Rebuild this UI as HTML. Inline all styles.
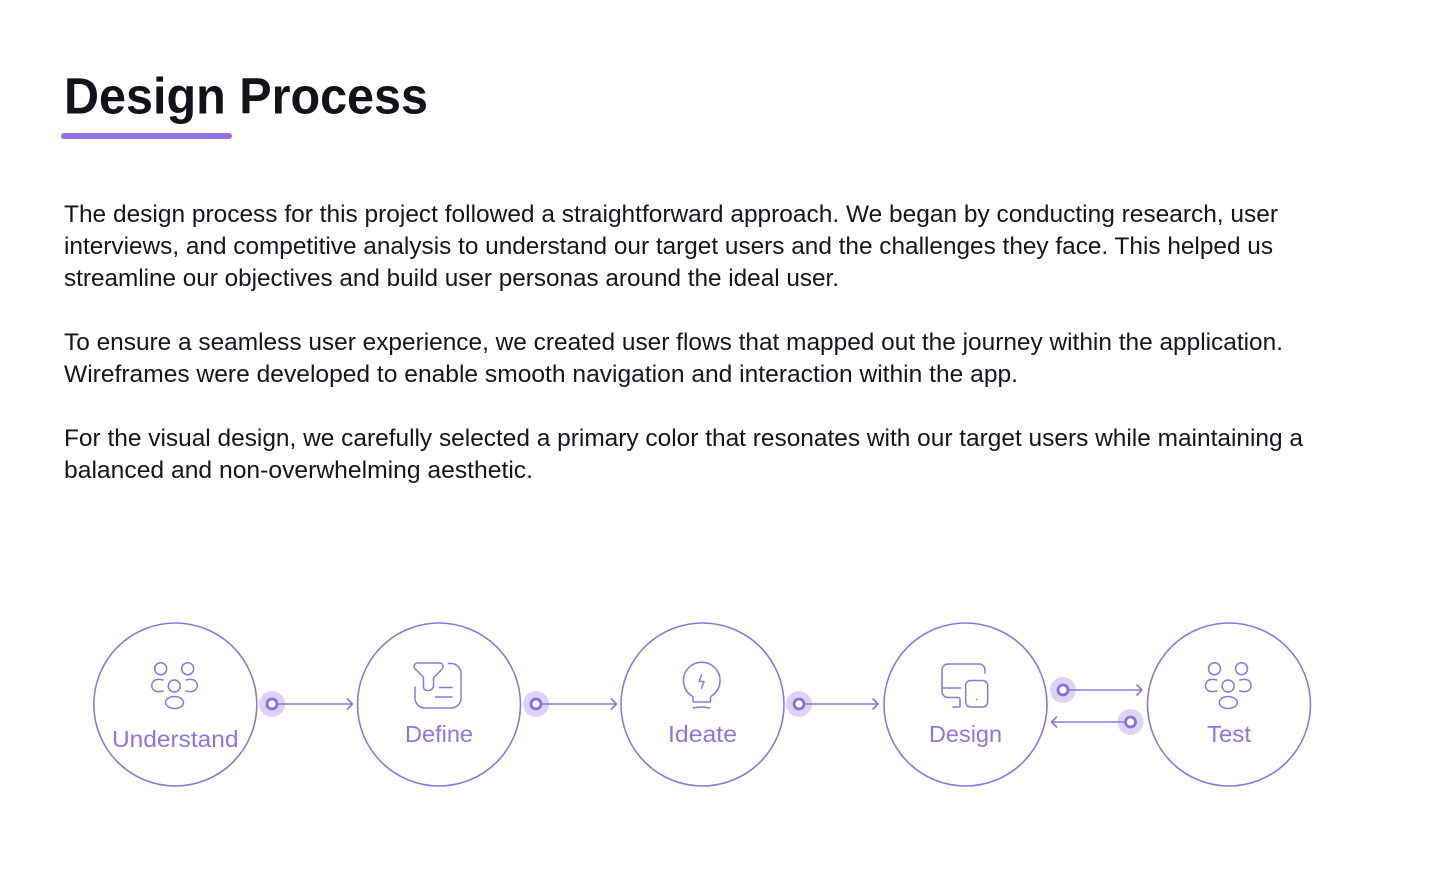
<!DOCTYPE html>
<html><head><meta charset="utf-8"><style>
html,body{margin:0;padding:0;background:#fff;width:1440px;height:889px;overflow:hidden}
svg{display:block}
text{font-family:"Liberation Sans",sans-serif}
.b{font-size:24px;fill:#15151d}
.l{font-size:23px;fill:#8f76dd}
.s{fill:none;stroke:#8f76dd;stroke-width:1.6;stroke-linecap:round;stroke-linejoin:round}
.i{fill:none;stroke:#8f76dd;stroke-width:1.5;stroke-linecap:round;stroke-linejoin:round}
</style></head><body>
<svg width="1440" height="889" viewBox="0 0 1440 889" xmlns="http://www.w3.org/2000/svg">
<defs>
<g id="people" class="i">
<circle cx="160.7" cy="668.7" r="6"/><circle cx="187.7" cy="668.7" r="6"/><circle cx="174.3" cy="686" r="6"/>
<ellipse cx="174.5" cy="702.5" rx="9" ry="6"/>
<path d="M163 680q-4-1-6-.500c-7 1-7 11 0 12q2 .500 6-.500"/>
<path d="M186 680q4-1 6-.500c7 1 7 11 0 12q-2 .500-6-.500"/>
</g>
<g id="dot"><circle r="13" fill="#dcd3f8" stroke="none"/><circle r="5" fill="#fff" stroke="#8a6fe0" stroke-width="2.800"/></g>
</defs>
<text x="64" y="113.500" font-size="51" font-weight="700" fill="#12121a" textLength="364" lengthAdjust="spacingAndGlyphs">Design Process</text>
<rect x="61" y="133" width="171" height="6" rx="3" fill="#9370e8"/>

<text class="b" x="64" y="222" textLength="1214" lengthAdjust="spacingAndGlyphs">The design process for this project followed a straightforward approach. We began by conducting research, user</text>
<text class="b" x="64" y="254" textLength="1209" lengthAdjust="spacingAndGlyphs">interviews, and competitive analysis to understand our target users and the challenges they face. This helped us</text>
<text class="b" x="64" y="286" textLength="775" lengthAdjust="spacingAndGlyphs">streamline our objectives and build user personas around the ideal user.</text>
<text class="b" x="64" y="350" textLength="1219" lengthAdjust="spacingAndGlyphs">To ensure a seamless user experience, we created user flows that mapped out the journey within the application.</text>
<text class="b" x="64" y="382" textLength="954" lengthAdjust="spacingAndGlyphs">Wireframes were developed to enable smooth navigation and interaction within the app.</text>
<text class="b" x="64" y="446" textLength="1239" lengthAdjust="spacingAndGlyphs">For the visual design, we carefully selected a primary color that resonates with our target users while maintaining a</text>
<text class="b" x="64" y="478" textLength="469" lengthAdjust="spacingAndGlyphs">balanced and non-overwhelming aesthetic.</text>

<g class="s">
<circle cx="175.300" cy="704.500" r="81.500"/>
<circle cx="439" cy="704.500" r="81.500"/>
<circle cx="702.500" cy="704.500" r="81.500"/>
<circle cx="965.500" cy="704.500" r="81.500"/>
<circle cx="1229" cy="704.500" r="81.500"/>
</g>

<use href="#people"/>
<use href="#people" x="1053.800"/>

<g class="i">
<path d="M418.500 663h21a3.500 3.500 0 0 1 2.500 6l-8 8.500a2 2 0 0 0-.5 1.500v7q-.5 4-5 4.500q-5 .5-5-4.500v-8a2 2 0 0 0-.8-1.500l-7.500-7.500a3.500 3.500 0 0 1 2.800-6z"/>
<path d="M448.500 663.500h2.500a10 10 0 0 1 10 10v24.500a10 10 0 0 1-10 10h-26a10 10 0 0 1-10-10v-11"/>
<path d="M439.500 687.500h12.500M435.500 697h16.500"/>

<path d="M693 701v-3.500a2 2 0 0 0-1-1.500a18.300 18.300 0 1 1 19.500 0a2 2 0 0 0-1 1.500v3.500a1 1 0 0 1-1 1h-15.500a1 1 0 0 1-1-1z"/>
<path d="M693.500 708q8-2 16 0"/>
<path d="M701.500 675l-2.300 6.500h4.800l-2.500 6.800"/>

<path d="M985 673v-3a6 6 0 0 0-6-6h-31a6 6 0 0 0-6 6v21.500a6 6 0 0 0 6 6h10a2 2 0 0 1 2 2v7.500h-7"/>
<path d="M942 688h18.500"/>
<rect x="965.700" y="680.500" width="22" height="26.500" rx="5"/>
</g>
<circle cx="976.500" cy="699.500" r=".8" fill="#8f76dd"/>

<text class="l" x="112" y="747" textLength="126.500" lengthAdjust="spacingAndGlyphs">Understand</text>
<text class="l" x="405" y="742" textLength="68" lengthAdjust="spacingAndGlyphs">Define</text>
<text class="l" x="668" y="742" textLength="69" lengthAdjust="spacingAndGlyphs">Ideate</text>
<text class="l" x="929" y="742" textLength="73" lengthAdjust="spacingAndGlyphs">Design</text>
<text class="l" x="1207" y="742" textLength="44" lengthAdjust="spacingAndGlyphs">Test</text>

<use href="#dot" x="272" y="704"/>
<use href="#dot" x="536" y="704"/>
<use href="#dot" x="799" y="704"/>
<use href="#dot" x="1063" y="690"/>
<use href="#dot" x="1130.500" y="722"/>
<g class="s">
<path d="M278 704H352.500M347.500 699l5 5-5 5"/>
<path d="M542 704H616.500M611.500 699l5 5-5 5"/>
<path d="M805 704H878M873 699l5 5-5 5"/>
<path d="M1069 690H1142M1137 685l5 5-5 5"/>
<path d="M1124.500 722H1051.500M1056.500 717l-5 5 5 5"/>
</g>
</svg>
</body></html>
